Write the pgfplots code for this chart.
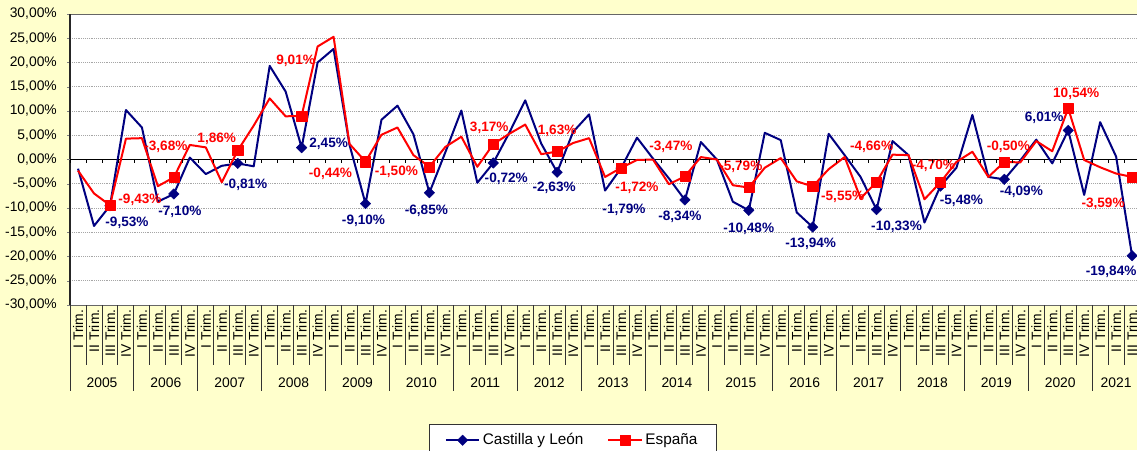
\documentclass[border=0pt]{standalone}
\usepackage{pgfplots}
\pgfplotsset{compat=1.18}
\usepackage{pgfplotstable}
\usepackage{fontspec}
\setmainfont{Liberation Sans}
\definecolor{bgyellow}{RGB}{255,255,204}
\definecolor{navy}{RGB}{0,0,128}
\definecolor{esred}{RGB}{255,0,0}

\pgfplotstableread{
x y
0 -1.9
1 -13.7
2 -9.53
3 10.2
4 6.6
5 -8.7
6 -7.10
7 0.4
8 -3.0
9 -1.3
10 -0.81
11 -1.4
12 19.3
13 14.0
14 2.45
15 20.0
16 22.8
17 3.0
18 -9.10
19 8.2
20 11.1
21 5.2
22 -6.85
23 1.5
24 10.1
25 -4.8
26 -0.72
27 5.5
28 12.2
29 3.3
30 -2.63
31 5.7
32 9.3
33 -6.4
34 -1.79
35 4.5
36 0.2
37 -3.9
38 -8.34
39 3.6
40 0.0
41 -8.7
42 -10.48
43 5.5
44 4.0
45 -10.9
46 -13.94
47 5.3
48 0.9
49 -3.6
50 -10.33
51 3.8
52 0.9
53 -13.0
54 -5.48
55 -1.7
56 9.2
57 -3.6
58 -4.09
59 -0.2
60 4.1
61 -0.8
62 6.01
63 -7.3
64 7.7
65 0.6
66 -19.84
}\cyl

\pgfplotstableread{
x y
0 -2.3
1 -7.0
2 -9.43
3 4.3
4 4.4
5 -5.5
6 -3.68
7 3.0
8 2.5
9 -4.7
10 1.86
11 7.0
12 12.6
13 8.9
14 9.01
15 23.3
16 25.3
17 3.2
18 -0.44
19 5.1
20 6.6
21 0.9
22 -1.50
23 2.6
24 4.7
25 -1.5
26 3.17
27 5.3
28 7.2
29 1.1
30 1.63
31 3.4
32 4.4
33 -3.6
34 -1.72
35 -0.1
36 0.0
37 -5.1
38 -3.47
39 0.5
40 0.0
41 -5.3
42 -5.79
43 -1.7
44 0.3
45 -4.5
46 -5.55
47 -2.0
48 0.5
49 -8.0
50 -4.66
51 1.0
52 0.9
53 -8.2
54 -4.70
55 -0.5
56 1.6
57 -3.6
58 -0.50
59 -0.6
60 3.8
61 1.7
62 10.54
63 -0.1
64 -1.6
65 -2.9
66 -3.59
}\esp

\begin{document}
\begin{tikzpicture}
\useasboundingbox (0,0) rectangle (852.75pt,337.5pt);
\fill[bgyellow] (0,0) rectangle (852.75pt,337.5pt);
\begin{axis}[
  at={(52.55pt,108.75pt)}, anchor=south west,
  scale only axis, width=802.5pt, height=218.25pt,
  xmin=-0.5, xmax=66.5, ymin=-30, ymax=30,
  clip=false,
  axis background/.style={fill=white},
  separate axis lines,
  x axis line style={draw=gray!80!black, line width=0.7pt},
  y axis line style={draw=black!85, line width=1.2pt},
  ytick={-30,-25,...,30},
  ytick pos=left,
  tick align=outside,
  major tick length=2.25pt,
  ymajorgrids,
  major grid style={densely dotted, gray!70, line width=0.5pt},
  extra y ticks={0},
  extra y tick labels={},
  extra y tick style={grid=major, major grid style={solid, black, line width=0.6pt}},
  /pgf/number format/assume math mode=true,
  yticklabel={\pgfmathprintnumber[fixed,fixed zerofill,precision=2,use comma,1000 sep={}]{\tick}\%},
  yticklabel style={font=\fontsize{10.4}{12}\selectfont, inner sep=0pt, xshift=-7.5pt},
  xtick={-0.5,0.5,...,66.5},
  x tick label as interval,
  xtick style={draw=none},
  xticklabels={I Trim.,II Trim.,III Trim.,IV Trim.,I Trim.,II Trim.,III Trim.,IV Trim.,I Trim.,II Trim.,III Trim.,IV Trim.,I Trim.,II Trim.,III Trim.,IV Trim.,I Trim.,II Trim.,III Trim.,IV Trim.,I Trim.,II Trim.,III Trim.,IV Trim.,I Trim.,II Trim.,III Trim.,IV Trim.,I Trim.,II Trim.,III Trim.,IV Trim.,I Trim.,II Trim.,III Trim.,IV Trim.,I Trim.,II Trim.,III Trim.,IV Trim.,I Trim.,II Trim.,III Trim.,IV Trim.,I Trim.,II Trim.,III Trim.,IV Trim.,I Trim.,II Trim.,III Trim.,IV Trim.,I Trim.,II Trim.,III Trim.,IV Trim.,I Trim.,II Trim.,III Trim.,IV Trim.,I Trim.,II Trim.,III Trim.,IV Trim.,I Trim.,II Trim.,III Trim.},
  xticklabel style={rotate=90, anchor=east, inner sep=1pt, font=\fontsize{10.4}{12}\selectfont},
  legend columns=2,
  legend style={at={(0.4696,-0.409)}, anchor=north, draw=black!80, fill=white,
    font=\fontsize{11.5}{13}\selectfont, inner xsep=12pt, inner ysep=5pt,
    /tikz/every even column/.append style={column sep=16pt}},
  legend image code/.code={\draw[#1, mark repeat=2, mark phase=2] plot coordinates {(0pt,0pt) (12.5pt,0pt) (25pt,0pt)};},
]
\addplot[navy, line width=1.5pt, line join=round, mark=square*, mark repeat=4, mark phase=3,
  mark options={rotate=45, mark size=2.8pt, solid, line width=0.3pt, fill=navy, draw=navy}] table {\cyl};
\addlegendentry{Castilla y León}
\addplot[esred, line width=1.5pt, line join=round, mark=square*, mark repeat=4, mark phase=3,
  mark options={mark size=3.8pt, solid, line width=0.3pt, fill=esred, draw=esred}] table {\esp};
\addlegendentry{España}

% Castilla y Leon labels
\node[navy, font=\bfseries\fontsize{10.2}{12}\selectfont, inner sep=0pt, xshift=12.75pt, yshift=-12.75pt] at (axis cs:2,-9.53) {-9,53\%};
\node[navy, font=\bfseries\fontsize{10.2}{12}\selectfont, inner sep=0pt, xshift=4.5pt, yshift=-13.5pt] at (axis cs:6,-7.10) {-7,10\%};
\node[navy, font=\bfseries\fontsize{10.2}{12}\selectfont, inner sep=0pt, xshift=6pt, yshift=-15.75pt] at (axis cs:10,-0.81) {-0,81\%};
\node[navy, font=\bfseries\fontsize{10.2}{12}\selectfont, inner sep=0pt, xshift=20.25pt, yshift=3pt] at (axis cs:14,2.45) {2,45\%};
\node[navy, font=\bfseries\fontsize{10.2}{12}\selectfont, inner sep=0pt, xshift=-1.5pt, yshift=-12.75pt] at (axis cs:18,-9.10) {-9,10\%};
\node[navy, font=\bfseries\fontsize{10.2}{12}\selectfont, inner sep=0pt, xshift=-2.25pt, yshift=-13.5pt] at (axis cs:22,-6.85) {-6,85\%};
\node[navy, font=\bfseries\fontsize{10.2}{12}\selectfont, inner sep=0pt, xshift=9.75pt, yshift=-12pt] at (axis cs:26,-0.72) {-0,72\%};
\node[navy, font=\bfseries\fontsize{10.2}{12}\selectfont, inner sep=0pt, xshift=-2.25pt, yshift=-12pt] at (axis cs:30,-2.63) {-2,63\%};
\node[navy, font=\bfseries\fontsize{10.2}{12}\selectfont, inner sep=0pt, xshift=2.25pt, yshift=-31.5pt] at (axis cs:34,-1.79) {-1,79\%};
\node[navy, font=\bfseries\fontsize{10.2}{12}\selectfont, inner sep=0pt, xshift=-3.75pt, yshift=-12.75pt] at (axis cs:38,-8.34) {-8,34\%};
\node[navy, font=\bfseries\fontsize{10.2}{12}\selectfont, inner sep=0pt, xshift=0pt, yshift=-13.5pt] at (axis cs:42,-10.48) {-10,48\%};
\node[navy, font=\bfseries\fontsize{10.2}{12}\selectfont, inner sep=0pt, xshift=-1.5pt, yshift=-12.75pt] at (axis cs:46,-13.94) {-13,94\%};
\node[navy, font=\bfseries\fontsize{10.2}{12}\selectfont, inner sep=0pt, xshift=15pt, yshift=-12.75pt] at (axis cs:50,-10.33) {-10,33\%};
\node[navy, font=\bfseries\fontsize{10.2}{12}\selectfont, inner sep=0pt, xshift=15.75pt, yshift=-11.25pt] at (axis cs:54,-5.48) {-5,48\%};
\node[navy, font=\bfseries\fontsize{10.2}{12}\selectfont, inner sep=0pt, xshift=12.75pt, yshift=-9pt] at (axis cs:58,-4.09) {-4,09\%};
\node[navy, font=\bfseries\fontsize{10.2}{12}\selectfont, inner sep=0pt, xshift=-18pt, yshift=9.75pt] at (axis cs:62,6.01) {6,01\%};
\node[navy, font=\bfseries\fontsize{10.2}{12}\selectfont, inner sep=0pt, xshift=-15.75pt, yshift=-12pt] at (axis cs:66,-19.84) {-19,84\%};
% Espana labels
\node[esred, font=\bfseries\fontsize{10.2}{12}\selectfont, inner sep=0pt, xshift=22.5pt, yshift=3.75pt] at (axis cs:2,-9.43) {-9,43\%};
\node[esred, font=\bfseries\fontsize{10.2}{12}\selectfont, inner sep=0pt, xshift=-6pt, yshift=23.25pt] at (axis cs:6,-3.68) {-3,68\%};
\node[esred, font=\bfseries\fontsize{10.2}{12}\selectfont, inner sep=0pt, xshift=-15.75pt, yshift=9pt] at (axis cs:10,1.86) {1,86\%};
\node[esred, font=\bfseries\fontsize{10.2}{12}\selectfont, inner sep=0pt, xshift=-4.5pt, yshift=41.25pt] at (axis cs:14,9.01) {9,01\%};
\node[esred, font=\bfseries\fontsize{10.2}{12}\selectfont, inner sep=0pt, xshift=-26.25pt, yshift=-9pt] at (axis cs:18,-0.44) {-0,44\%};
\node[esred, font=\bfseries\fontsize{10.2}{12}\selectfont, inner sep=0pt, xshift=-24.75pt, yshift=-3.75pt] at (axis cs:22,-1.50) {-1,50\%};
\node[esred, font=\bfseries\fontsize{10.2}{12}\selectfont, inner sep=0pt, xshift=-3pt, yshift=12pt] at (axis cs:26,3.17) {3,17\%};
\node[esred, font=\bfseries\fontsize{10.2}{12}\selectfont, inner sep=0pt, xshift=0pt, yshift=15.75pt] at (axis cs:30,1.63) {1,63\%};
\node[esred, font=\bfseries\fontsize{10.2}{12}\selectfont, inner sep=0pt, xshift=12pt, yshift=-15pt] at (axis cs:34,-1.72) {-1,72\%};
\node[esred, font=\bfseries\fontsize{10.2}{12}\selectfont, inner sep=0pt, xshift=-10.5pt, yshift=22.5pt] at (axis cs:38,-3.47) {-3,47\%};
\node[esred, font=\bfseries\fontsize{10.2}{12}\selectfont, inner sep=0pt, xshift=-6pt, yshift=15.75pt] at (axis cs:42,-5.79) {-5,79\%};
\node[esred, font=\bfseries\fontsize{10.2}{12}\selectfont, inner sep=0pt, xshift=22.5pt, yshift=-7.5pt] at (axis cs:46,-5.55) {-5,55\%};
\node[esred, font=\bfseries\fontsize{10.2}{12}\selectfont, inner sep=0pt, xshift=-3.75pt, yshift=26.25pt] at (axis cs:50,-4.66) {-4,66\%};
\node[esred, font=\bfseries\fontsize{10.2}{12}\selectfont, inner sep=0pt, xshift=-5.25pt, yshift=12pt] at (axis cs:54,-4.70) {-4,70\%};
\node[esred, font=\bfseries\fontsize{10.2}{12}\selectfont, inner sep=0pt, xshift=3pt, yshift=11.25pt] at (axis cs:58,-0.50) {-0,50\%};
\node[esred, font=\bfseries\fontsize{10.2}{12}\selectfont, inner sep=0pt, xshift=6pt, yshift=11.25pt] at (axis cs:62,10.54) {10,54\%};
\node[esred, font=\bfseries\fontsize{10.2}{12}\selectfont, inner sep=0pt, xshift=-21.75pt, yshift=-20.25pt] at (axis cs:66,-3.59) {-3,59\%};
\end{axis}
\begin{scope}[x=0.75pt,y=0.75pt]
\foreach \k in {0,...,67} {
  \pgfmathsetmacro\xx{70.07+15.97*\k}
  \draw[black, line width=0.5pt] (\xx,290.5) -- (\xx,286.5);
  \draw[black!80, line width=0.75pt] (\xx,145) -- (\xx,85);
}
\foreach \j in {0,...,16} {
  \pgfmathsetmacro\xx{70.07+15.97*4*\j}
  \draw[black!80, line width=0.75pt] (\xx,85) -- (\xx,59);
}
\foreach \j in {0,...,15} {
  \pgfmathsetmacro\xx{70.07+15.97*(4*\j+2)}
  \pgfmathtruncatemacro\yy{2005+\j}
  \node[font=\fontsize{10.4}{12}\selectfont] at (\xx,67) {\yy};
}
\node[font=\fontsize{10.4}{12}\selectfont] at ({70.07+15.97*65.5},67) {2021};
\end{scope}
\end{tikzpicture}
\end{document}
